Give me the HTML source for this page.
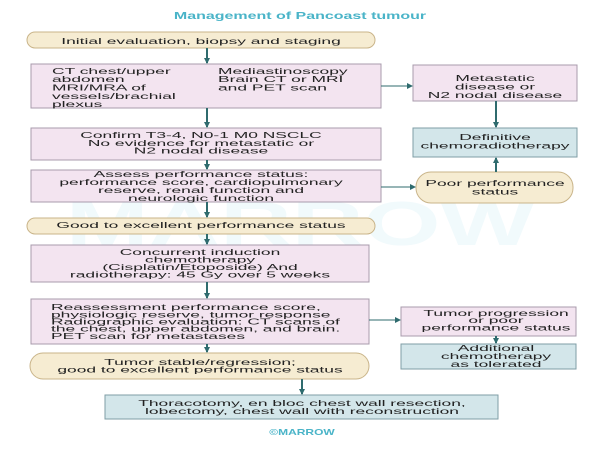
<!DOCTYPE html>
<html><head><meta charset="utf-8"><style>
html,body{margin:0;padding:0;background:#fff;width:600px;height:450px;overflow:hidden}
svg{display:block}
text{font-family:"Liberation Sans",Arial,sans-serif;font-size:8.5px;fill:#222}
.c{text-anchor:middle}
</style></head><body>
<svg width="600" height="450" viewBox="0 0 600 450" xmlns="http://www.w3.org/2000/svg">
<defs><marker id="a" markerWidth="6" markerHeight="6" refX="5" refY="3" orient="auto" markerUnits="userSpaceOnUse"><path d="M0,0 L6,3 L0,6 z" fill="#2f6b6e"/></marker></defs>
<text transform="translate(300,245) scale(1.6,1)" class="c" style="font-size:62px;font-weight:bold;fill:#f1fafc">MARROW</text>
<text transform="translate(300,19) scale(1.6,1)" class="c" style="font-size:10px;font-weight:bold;fill:#4ab4c8">Management of Pancoast tumour</text>
<g stroke-width="1">
<rect x="27" y="32" width="348" height="16" rx="8" fill="#f6ecd2" stroke="#c9b489"/>
<rect x="31" y="64" width="350" height="44" fill="#f3e4f0" stroke="#a89bac"/>
<rect x="413" y="65" width="164" height="36" fill="#f3e4f0" stroke="#a89bac"/>
<rect x="31" y="128" width="350" height="32" fill="#f3e4f0" stroke="#a89bac"/>
<rect x="413" y="128" width="164" height="29" fill="#d3e6ea" stroke="#7f9ea6"/>
<rect x="31" y="170" width="350" height="32" fill="#f3e4f0" stroke="#a89bac"/>
<rect x="416" y="172" width="157" height="31" rx="15" fill="#f6ecd2" stroke="#c9b489"/>
<rect x="27" y="218" width="348" height="16" rx="8" fill="#f6ecd2" stroke="#c9b489"/>
<rect x="31" y="245" width="338" height="37" fill="#f3e4f0" stroke="#a89bac"/>
<rect x="31" y="299" width="338" height="45" fill="#f3e4f0" stroke="#a89bac"/>
<rect x="401" y="307" width="175" height="29" fill="#f3e4f0" stroke="#a89bac"/>
<rect x="401" y="344" width="175" height="25" fill="#d3e6ea" stroke="#7f9ea6"/>
<rect x="30" y="353" width="339" height="26" rx="13" fill="#f6ecd2" stroke="#c9b489"/>
<rect x="105" y="395" width="393" height="24" fill="#d3e6ea" stroke="#7f9ea6"/>
</g>
<g stroke="#2f6b6e" stroke-width="2" marker-end="url(#a)">
<line x1="207" y1="48" x2="207" y2="63"/>
<line x1="207" y1="108" x2="207" y2="127"/>
<line x1="207" y1="160" x2="207" y2="169"/>
<line x1="207" y1="202" x2="207" y2="217"/>
<line x1="207" y1="234" x2="207" y2="244"/>
<line x1="207" y1="282" x2="207" y2="298"/>
<line x1="207" y1="344" x2="207" y2="352"/>
<line x1="302" y1="379" x2="302" y2="394"/>
<line x1="496" y1="101" x2="496" y2="127"/>
<line x1="496" y1="172" x2="496" y2="158"/>
<line x1="496" y1="336" x2="496" y2="343"/>
</g>
<g stroke="#2f6b6e" stroke-width="1" marker-end="url(#a)">
<line x1="381" y1="86" x2="412" y2="86"/>
<line x1="381" y1="187" x2="415" y2="187"/>
<line x1="369" y1="320" x2="400" y2="320"/>
</g>
<g>
<text class="c" transform="translate(201,44) scale(2.05,1)">Initial evaluation, biopsy and staging</text>
<text transform="translate(52,74) scale(2.05,1)">CT chest/upper</text>
<text transform="translate(52,82) scale(2.05,1)">abdomen</text>
<text transform="translate(52,90.5) scale(2.05,1)">MRI/MRA of</text>
<text transform="translate(52,99) scale(2.05,1)">vessels/brachial</text>
<text transform="translate(52,107) scale(2.05,1)">plexus</text>
<text transform="translate(218,74) scale(2.05,1)">Mediastinoscopy</text>
<text transform="translate(218,82) scale(2.05,1)">Brain CT or MRI</text>
<text transform="translate(218,90.5) scale(2.05,1)">and PET scan</text>
<text class="c" transform="translate(495,81) scale(2.05,1)">Metastatic</text>
<text class="c" transform="translate(495,89.5) scale(2.05,1)">disease or</text>
<text class="c" transform="translate(495,98) scale(2.05,1)">N2 nodal disease</text>
<text class="c" transform="translate(201,138) scale(2.05,1)">Confirm T3-4, N0-1 M0 NSCLC</text>
<text class="c" transform="translate(201,146) scale(2.05,1)">No evidence for metastatic or</text>
<text class="c" transform="translate(201,153.5) scale(2.05,1)">N2 nodal disease</text>
<text class="c" transform="translate(495,140) scale(2.05,1)">Definitive</text>
<text class="c" transform="translate(495,148.5) scale(2.05,1)">chemoradiotherapy</text>
<text class="c" transform="translate(201,177) scale(2.05,1)">Assess performance status:</text>
<text class="c" transform="translate(201,185) scale(2.05,1)">performance score, cardiopulmonary</text>
<text class="c" transform="translate(201,193) scale(2.05,1)">reserve, renal function and</text>
<text class="c" transform="translate(201,201) scale(2.05,1)">neurologic function</text>
<text class="c" transform="translate(495,186) scale(2.05,1)">Poor performance</text>
<text class="c" transform="translate(495,194.5) scale(2.05,1)">status</text>
<text class="c" transform="translate(201,228) scale(2.05,1)">Good to excellent performance status</text>
<text class="c" transform="translate(200,255) scale(2.05,1)">Concurrent induction</text>
<text class="c" transform="translate(200,262.5) scale(2.05,1)">chemotherapy</text>
<text class="c" transform="translate(200,270) scale(2.05,1)">(Cisplatin/Etoposide) And</text>
<text class="c" transform="translate(200,277.5) scale(2.05,1)">radiotherapy: 45 Gy over 5 weeks</text>
<text transform="translate(51,310) scale(2.05,1)">Reassessment performance score,</text>
<text transform="translate(51,317.5) scale(2.05,1)">physiologic reserve, tumor response</text>
<text transform="translate(51,324.5) scale(2.05,1)">Radiographic evaluation: CT scans of</text>
<text transform="translate(51,331.5) scale(2.05,1)">the chest, upper abdomen, and brain.</text>
<text transform="translate(51,339) scale(2.05,1)">PET scan for metastases</text>
<text class="c" transform="translate(496,316) scale(2.05,1)">Tumor progression</text>
<text class="c" transform="translate(496,323) scale(2.05,1)">or poor</text>
<text class="c" transform="translate(496,330.5) scale(2.05,1)">performance status</text>
<text class="c" transform="translate(496,351) scale(2.05,1)">Additional</text>
<text class="c" transform="translate(496,359) scale(2.05,1)">chemotherapy</text>
<text class="c" transform="translate(496,367) scale(2.05,1)">as tolerated</text>
<text class="c" transform="translate(200,365) scale(2.05,1)">Tumor stable/regression;</text>
<text class="c" transform="translate(200,372.5) scale(2.05,1)">good to excellent performance status</text>
<text class="c" transform="translate(302,406) scale(2.05,1)">Thoracotomy, en bloc chest wall resection,</text>
<text class="c" transform="translate(302,414) scale(2.05,1)">lobectomy, chest wall with reconstruction</text>
</g>
<text class="c" transform="translate(302,435) scale(1.5,1)" style="font-size:8px;font-weight:bold;fill:#4ab4c8">©MARROW</text>
</svg>
</body></html>
